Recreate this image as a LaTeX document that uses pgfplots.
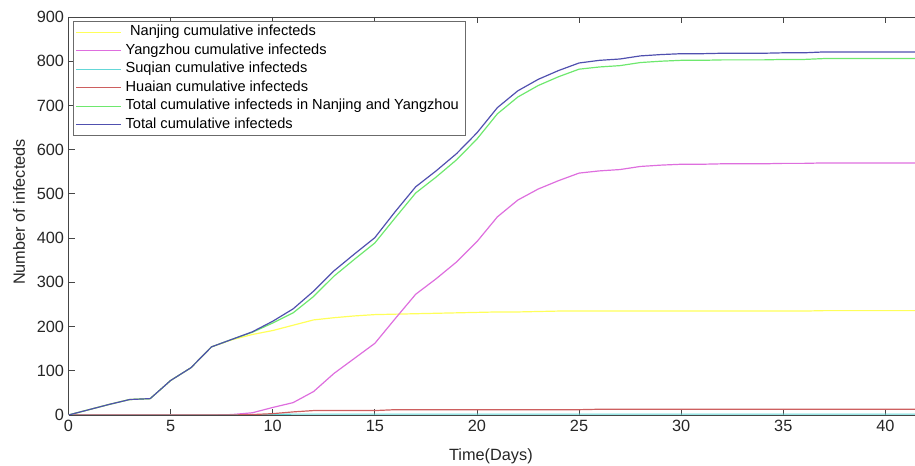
\documentclass[border=0pt]{standalone}
\usepackage{fontspec}
\setmainfont{Liberation Sans}
\usepackage{pgfplots}
\pgfplotsset{compat=1.18}
\usepackage{pgfplotstable}
\usetikzlibrary{calc}

\definecolor{cnj}{RGB}{255,255,90}
\definecolor{cyz}{RGB}{222,110,222}
\definecolor{csq}{RGB}{100,215,215}
\definecolor{cha}{RGB}{205,95,95}
\definecolor{cny}{RGB}{110,232,110}
\definecolor{ctot}{RGB}{80,80,175}
\definecolor{axgray}{RGB}{70,70,70}

% day, Nanjing, Yangzhou, Suqian, Huaian, Nanjing+Yangzhou, total
\pgfplotstableread{
day nj yz sq ha ny tot
0 0 0 0 0 0 0
1 12 0 0 0 12 12
2 24 0 0 0 24 24
3 35 0 0 0 35 35
4 37 0 0 0 37 37
5 78 0 0 0 78 78
6 107 0 0 0 107 107
7 154 0 0 0 154 154
8 170 1 0 0 171 171
9 182 5 0 1 187 188
10 191 17 1 3 208 212
11 203 28 2 7 231 240
12 215 53 2 10 268 280
13 220 94 2 10 314 326
14 224 128 2 10 352 364
15 227 162 2 10 389 401
16 228 218 2 12 446 460
17 229 273 2 12 502 516
18 230 308 2 12 538 552
19 231 346 2 12 577 591
20 232 392 2 12 624 638
21 233 448 2 12 681 695
22 233 486 2 12 719 733
23 234 511 2 12 745 759
24 235 530 2 12 765 779
25 235 547 2 12 782 796
26 235 552 2 13 787 802
27 235 555 2 13 790 805
28 235 562 2 13 797 812
29 235 565 2 13 800 815
30 235 567 2 13 802 817
31 235 567 2 13 802 817
32 235 568 2 13 803 818
33 235 568 2 13 803 818
34 235 568 2 13 803 818
35 235 569 2 13 804 819
36 235 569 2 13 804 819
37 236 570 2 13 806 821
38 236 570 2 13 806 821
39 236 570 2 13 806 821
40 236 570 2 13 806 821
41 236 570 2 13 806 821
42 236 570 2 13 806 821
}\cases

\begin{document}
\begin{tikzpicture}
\begin{axis}[
    scale only axis,
    width=846.5pt, height=398pt,
    xmin=0, xmax=41.45,
    ymin=0, ymax=900,
    xtick={0,5,...,40},
    ytick={0,100,...,900},
    axis x line*=box,
    axis y line*=left,
    axis line style={axgray, line width=0.8pt},
    tick align=inside,
    major tick length=6pt,
    every tick/.style={axgray, line width=0.8pt},
    tick label style={font=\fontsize{16.3}{16}\selectfont, text=black!85},
    /pgf/number format/assume math mode=true,
    xticklabel style={yshift=-2pt},
    yticklabel style={xshift=-1pt},
    xlabel={Time(Days)},
    ylabel={Number of infecteds},
    label style={font=\fontsize{16.3}{16}\selectfont, text=black!85},
    xlabel style={at={(axis description cs:0.499,-0.103)}, anchor=center},
    ylabel style={at={(axis description cs:-0.0585,0.51)}, anchor=center},
    legend style={
        at={(rel axis cs:0,1)}, anchor=north west,
        xshift=4.5pt, yshift=-4pt,
        draw=axgray!80, line width=0.8pt, fill=white,
        font=\fontsize{14.6}{14}\selectfont,
        inner xsep=2.5pt, inner ysep=1.5pt,
        row sep=0pt,
        nodes={inner ysep=2.6pt, inner xsep=3.5pt, text height=10.3pt, text depth=3pt},
    },
    legend cell align=left,
    legend image code/.code={\draw[#1, line width=1.2pt] (0pt,0pt) -- (45pt,0pt);},
    every axis plot/.append style={line width=1.2pt},
]
\addplot[cnj] table[x=day, y=nj] {\cases};
\addlegendentry{\hspace{4.5pt}Nanjing cumulative infecteds}
\addplot[cyz] table[x=day, y=yz] {\cases};
\addlegendentry{Yangzhou cumulative infecteds}
\addplot[csq] table[x=day, y=sq] {\cases};
\addlegendentry{Suqian cumulative infecteds}
\addplot[cha] table[x=day, y=ha] {\cases};
\addlegendentry{Huaian cumulative infecteds}
\addplot[cny] table[x=day, y=ny] {\cases};
\addlegendentry{Total cumulative infecteds in Nanjing and Yangzhou}
\addplot[ctot] table[x=day, y=tot] {\cases};
\addlegendentry{Total cumulative infecteds}
\coordinate (ll) at (rel axis cs:0,0);
\coordinate (ur) at (rel axis cs:1,1);
\end{axis}
\pgfresetboundingbox
\path ($(ll)+(-68.5pt,-51pt)$) rectangle ($(ur)+(0pt,17pt)$);
\end{tikzpicture}
\end{document}
